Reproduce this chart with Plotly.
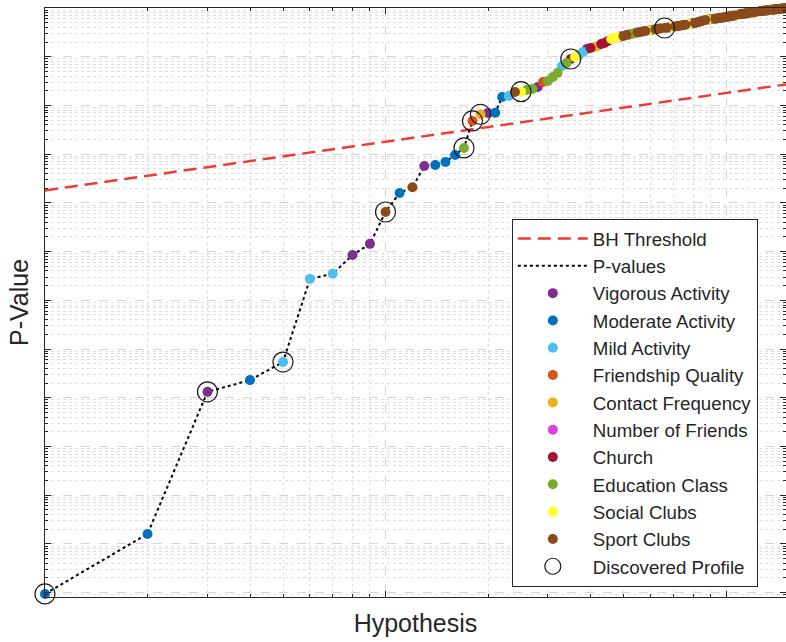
import plotly.graph_objects as go

# Sorted p-values of the 150 tested hypotheses (rank 1 = most significant)
p_values = [
    9.4e-13, 1.6e-11, 1.32e-8, 2.3e-8, 5.4e-8, 2.75e-6, 3.5e-6, 8.5e-6, 1.44e-5, 6.5e-5,
    1.6e-4, 2.1e-4, 5.7e-4, 6.0e-4, 6.9e-4, 9.6e-4, 1.34e-3, 4.8e-3, 6.6e-3, 7.0e-3,
    7.1e-3, 0.0149, 0.0156, 0.0189, 0.0192, 0.0208, 0.0218, 0.0239, 0.0303, 0.0318,
    0.0384, 0.0464, 0.0645, 0.0743, 0.0898, 0.0987, 0.108, 0.125, 0.144, 0.151,
    0.158, 0.166, 0.182, 0.191, 0.210, 0.231, 0.242, 0.254, 0.260, 0.266,
    0.279, 0.285, 0.293, 0.307, 0.314, 0.322, 0.329, 0.337, 0.345, 0.353,
    0.358, 0.365, 0.371, 0.378, 0.383, 0.389, 0.393, 0.398, 0.404, 0.412,
    0.419, 0.425, 0.431, 0.438, 0.446, 0.452, 0.459, 0.466, 0.475, 0.484,
    0.490, 0.503, 0.517, 0.528, 0.541, 0.553, 0.566, 0.572, 0.579, 0.585,
    0.592, 0.597, 0.604, 0.611, 0.619, 0.626, 0.633, 0.641, 0.648, 0.655,
    0.662, 0.668, 0.676, 0.684, 0.693, 0.705, 0.714, 0.722, 0.734, 0.745,
    0.752, 0.758, 0.766, 0.771, 0.777, 0.784, 0.790, 0.797, 0.803, 0.812,
    0.820, 0.829, 0.836, 0.843, 0.851, 0.860, 0.867, 0.873, 0.878, 0.884,
    0.889, 0.894, 0.899, 0.905, 0.911, 0.916, 0.922, 0.927, 0.932, 0.938,
    0.944, 0.950, 0.955, 0.961, 0.966, 0.972, 0.977, 0.983, 0.989, 0.995,
]

# Activity / social category of each hypothesis, same order as p_values
hyp_category = [
    "Mo", "Mo", "V", "Mo", "Mi", "Mi", "Mi", "V", "V", "Sp",
    "Mo", "Sp", "V", "Mo", "Mo", "Mo", "E", "F", "C", "V",
    "Mo", "Mo", "Mi", "Sp", "S", "E", "E", "V", "F", "E",
    "E", "E", "Mi", "E", "Ch", "S", "Mi", "Mi", "V", "Ch",
    "C", "C", "Ch", "Ch", "Ch", "S", "S", "S", "Ch", "Sp",
    "Sp", "Ch", "E", "E", "Sp", "Sp", "Ch", "Sp", "S", "E",
    "E", "Sp", "Ch", "Sp", "E", "N", "Sp", "Ch", "S", "S",
    "Sp", "Ch", "Sp", "Sp", "Ch", "Sp", "S", "S", "Ch", "Ch",
    "Sp", "Sp", "Sp", "Sp", "Ch", "E", "Sp", "S", "Ch", "E",
    "N", "N", "Sp", "Sp", "Sp", "Ch", "Sp", "Sp", "E", "Sp",
    "Sp", "Ch", "Sp", "Sp", "Sp", "Sp", "S", "S", "S", "Sp",
    "Sp", "Sp", "Ch", "Sp", "Sp", "N", "Sp", "S", "S", "Sp",
    "Sp", "Sp", "S", "S", "S", "Sp", "Sp", "Sp", "N", "Sp",
    "Sp", "Sp", "Sp", "S", "S", "S", "Sp", "Sp", "Sp", "Sp",
    "Sp", "Sp", "Sp", "S", "Sp", "Sp", "Sp", "S", "Sp", "Sp",
]

category_codes = ["V", "Mo", "Mi", "F", "C", "N", "Ch", "E", "S", "Sp"]
category_names = [
    "Vigorous Activity", "Moderate Activity", "Mild Activity", "Friendship Quality",
    "Contact Frequency", "Number of Friends", "Church", "Education Class",
    "Social Clubs", "Sport Clubs",
]
category_colors = [
    "#7E2F8E", "#0072BD", "#4DBEEE", "#D95319", "#EDB120",
    "#E03CE8", "#A2142F", "#77AC30", "#FFFF2E", "#8A4A1C",
]

# Ranks of the hypotheses retained as discovered profiles
discovered_ranks = [1, 3, 5, 10, 17, 18, 19, 25, 35, 66]

# Benjamini-Hochberg level
bh_alpha = 0.027

n_hyp = len(p_values)
ranks = list(range(1, n_hyp + 1))
bh_threshold = [bh_alpha * r / n_hyp for r in ranks]

TEXT = "#262626"
FONT = "Liberation Sans, Arial, Helvetica, sans-serif"

fig = go.Figure()

fig.add_trace(go.Scatter(
    x=ranks, y=bh_threshold, mode="lines", name="BH Threshold",
    line=dict(color="#EE3B33", width=2.5, dash="13px,7px"),
    legendgroup="bh",
))
fig.add_trace(go.Scatter(
    x=ranks, y=p_values, mode="lines", name="P-values",
    line=dict(color="#000000", width=2, dash="dot"),
    legendgroup="pv",
))

for code, name, color in zip(category_codes, category_names, category_colors):
    xs = [r for r, c in zip(ranks, hyp_category) if c == code]
    ys = [p for p, c in zip(p_values, hyp_category) if c == code]
    fig.add_trace(go.Scatter(
        x=xs, y=ys, mode="markers", name=name,
        marker=dict(color=color, size=10, line=dict(width=0)),
        cliponaxis=False, legendgroup=name,
    ))

fig.add_trace(go.Scatter(
    x=discovered_ranks, y=[p_values[r - 1] for r in discovered_ranks],
    mode="markers", name="Discovered Profile",
    marker=dict(symbol="circle-open", size=20, color="#1a1a1a", line=dict(width=1.2)),
    cliponaxis=False, legendgroup="disc",
))

grid_major = dict(showgrid=True, gridcolor="#d4d4d4", griddash="dash", gridwidth=1)
minor = dict(ticks="inside", ticklen=3, tickcolor=TEXT, showgrid=True,
             gridcolor="#dedede", griddash="dot", gridwidth=1, dtick="D1")

fig.update_xaxes(
    type="log", range=[0, 2.1761], dtick=1, showticklabels=False,
    ticks="inside", ticklen=6, tickcolor=TEXT, showline=True, linecolor=TEXT,
    linewidth=1, mirror="ticks", zeroline=False, minor=minor, **grid_major,
    title=dict(text="Hypothesis", font=dict(size=25, color=TEXT, family=FONT), standoff=17),
    automargin=False,
)
fig.update_yaxes(
    type="log", range=[-12.09, 0], dtick=1, showticklabels=False,
    ticks="inside", ticklen=6, tickcolor=TEXT, showline=True, linecolor=TEXT,
    linewidth=1, mirror="ticks", zeroline=False, minor=minor, **grid_major,
    title=dict(text="P-Value", font=dict(size=25, color=TEXT, family=FONT), standoff=8),
    automargin=False,
)

fig.update_layout(
    width=786, height=642,
    margin=dict(l=45, r=0, t=8, b=45),
    paper_bgcolor="white", plot_bgcolor="white",
    font=dict(family=FONT, color=TEXT),
    showlegend=True,
    legend=dict(
        x=0.630, y=0.642, xanchor="left", yanchor="top",
        bgcolor="white", bordercolor=TEXT, borderwidth=1,
        font=dict(size=18.7, color=TEXT, family=FONT),
        itemwidth=70, tracegroupgap=0,
    ),
)

fig.write_html("out.html")
